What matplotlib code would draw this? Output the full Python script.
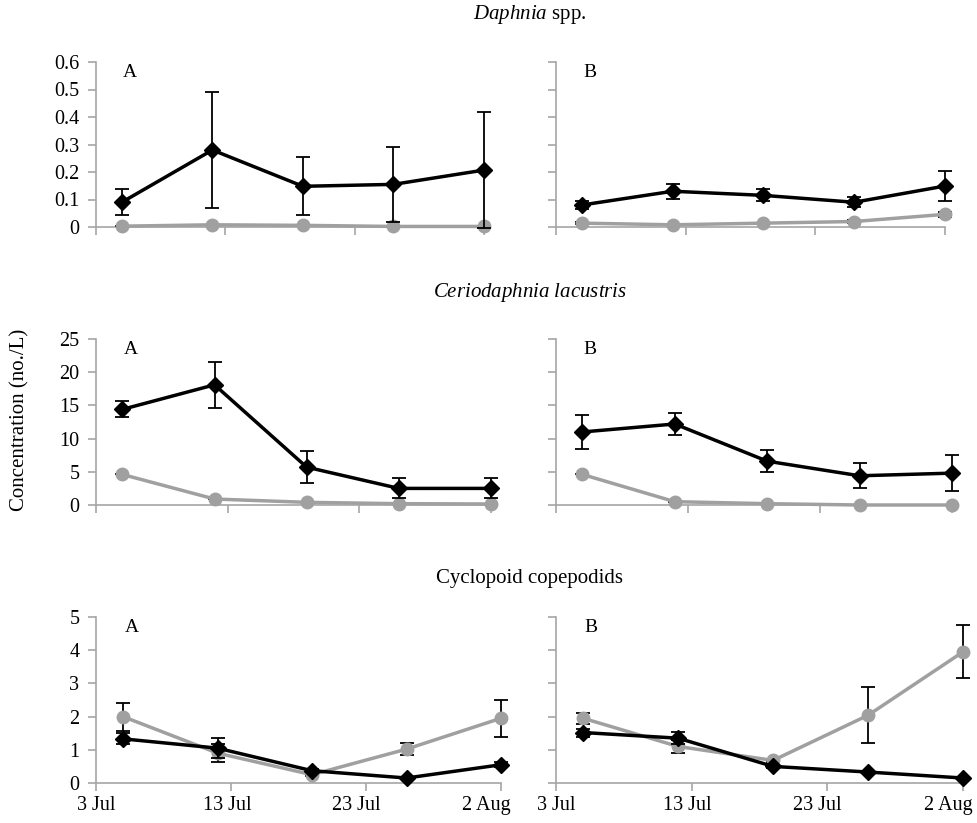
import matplotlib as mpl
import matplotlib.pyplot as plt

mpl.rcParams['font.family'] = ['Liberation Serif', 'DejaVu Serif']
mpl.rcParams['mathtext.fontset'] = 'custom'
mpl.rcParams['mathtext.it'] = 'Liberation Serif:italic'
mpl.rcParams['mathtext.rm'] = 'Liberation Serif'

#######
# Data (days after 3 Jul)

days = [2, 9, 16, 23, 30]
tick_days = [0, 10, 20, 30]
tick_labels = ["3 Jul", "13 Jul", "23 Jul", "2 Aug"]

# Daphnia spp.
daph_A_black = [0.09, 0.28, 0.148, 0.155, 0.207]
daph_A_black_err = [0.047, 0.21, 0.105, 0.135, 0.21]
daph_A_grey = [0.003, 0.008, 0.006, 0.002, 0.002]
daph_A_grey_err = [0.0, 0.0, 0.0, 0.0, 0.0]
daph_B_black = [0.08, 0.13, 0.115, 0.09, 0.149]
daph_B_black_err = [0.015, 0.027, 0.022, 0.018, 0.054]
daph_B_grey = [0.014, 0.008, 0.014, 0.02, 0.046]
daph_B_grey_err = [0.004, 0.0, 0.0, 0.005, 0.01]

# Ceriodaphnia lacustris
cerio_A_black = [14.4, 18.1, 5.7, 2.5, 2.5]
cerio_A_black_err = [1.2, 3.5, 2.4, 1.5, 1.5]
cerio_A_grey = [4.6, 0.9, 0.4, 0.2, 0.15]
cerio_A_grey_err = [0.0, 0.0, 0.0, 0.0, 0.0]
cerio_B_black = [11.0, 12.2, 6.6, 4.4, 4.8]
cerio_B_black_err = [2.5, 1.6, 1.65, 1.9, 2.7]
cerio_B_grey = [4.6, 0.5, 0.2, 0.0, 0.0]
cerio_B_grey_err = [0.0, 0.0, 0.0, 0.0, 0.0]

# Cyclopoid copepodids
cyc_A_black = [1.33, 1.05, 0.37, 0.15, 0.55]
cyc_A_black_err = [0.17, 0.3, 0.05, 0.03, 0.07]
cyc_A_grey = [2.0, 0.9, 0.25, 1.02, 1.95]
cyc_A_grey_err = [0.42, 0.28, 0.03, 0.17, 0.55]
cyc_B_black = [1.52, 1.35, 0.5, 0.33, 0.15]
cyc_B_black_err = [0.12, 0.18, 0.05, 0.03, 0.02]
cyc_B_grey = [1.95, 1.1, 0.68, 2.04, 3.95]
cyc_B_grey_err = [0.17, 0.2, 0.05, 0.85, 0.8]

rows = [
    (r"$\it{Daphnia}$ spp.", 0.6, [0, 0.1, 0.2, 0.3, 0.4, 0.5, 0.6],
     ["0", "0.1", "0.2", "0.3", "0.4", "0.5", "0.6"],
     [(daph_A_black, daph_A_black_err, daph_A_grey, daph_A_grey_err),
      (daph_B_black, daph_B_black_err, daph_B_grey, daph_B_grey_err)]),
    (r"$\it{Ceriodaphnia\ lacustris}$", 25, [0, 5, 10, 15, 20, 25],
     ["0", "5", "10", "15", "20", "25"],
     [(cerio_A_black, cerio_A_black_err, cerio_A_grey, cerio_A_grey_err),
      (cerio_B_black, cerio_B_black_err, cerio_B_grey, cerio_B_grey_err)]),
    ("Cyclopoid copepodids", 5, [0, 1, 2, 3, 4, 5],
     ["0", "1", "2", "3", "4", "5"],
     [(cyc_A_black, cyc_A_black_err, cyc_A_grey, cyc_A_grey_err),
      (cyc_B_black, cyc_B_black_err, cyc_B_grey, cyc_B_grey_err)]),
]

#######
# Plot

W, H = 978, 823
fig = plt.figure(figsize=(9.78, 8.23), dpi=100)

# panel pixel boxes per row: (left col x0, x1), (right col x0, x1)
col_x = [[(96, 484), (556, 945)],
         [(96, 491), (556, 952)],
         [(96, 501), (556, 963)]]
row_y = [(62, 227), (339, 505), (617, 783)]
title_y = [15, 293, 578]
label_shift = [0, -4, -10, -15]
axcol = '#a6a6a6'
grey = '#a0a0a0'

for r, (title, ymax, yt, ytl, panels) in enumerate(rows):
    fig.text(530 / W, 1 - title_y[r] / H, title, ha='center', va='center', fontsize=15)
    for c, (blk, blk_err, gry, gry_err) in enumerate(panels):
        x0, x1 = col_x[r][c]
        y0, y1 = row_y[r]
        ax = fig.add_axes([x0 / W, 1 - y1 / H, (x1 - x0) / W, (y1 - y0) / H])
        ax.errorbar(days, gry, yerr=gry_err, color=grey, lw=2.5, marker='o', ms=9,
                    mec=grey, mfc=grey, ecolor='black', elinewidth=1.3, capsize=5,
                    capthick=1.3, clip_on=False, zorder=3)
        ax.errorbar(days, blk, yerr=blk_err, color='black', lw=2.5, marker='D', ms=8,
                    ecolor='black', elinewidth=1.3, capsize=5, capthick=1.3,
                    clip_on=False, zorder=4)
        ax.set_xlim(0, 30)
        ax.set_ylim(0, ymax)
        ax.set_yticks(yt)
        if c == 0:
            ax.set_yticklabels(ytl, fontsize=14.5)
        else:
            ax.set_yticklabels([])
        ax.set_xticks(tick_days)
        ax.set_xticklabels([])
        if r == 2:
            # date labels sit a little left of their ticks, as in the original
            for d, lab, dx in zip(tick_days, tick_labels, label_shift):
                ax.annotate(lab, xy=(d, 0), xycoords=('data', 'axes fraction'),
                            xytext=(dx, -13), textcoords='offset pixels',
                            ha='center', va='top', fontsize=14.5, annotation_clip=False)
        for s in ['top', 'right']:
            ax.spines[s].set_visible(False)
        for s in ['left', 'bottom']:
            ax.spines[s].set_color(axcol)
            ax.spines[s].set_linewidth(1.2)
        ax.tick_params(axis='both', direction='out', length=6, width=1.2, color=axcol, pad=6)
        ax.text(0.07, 0.99, "AB"[c], transform=ax.transAxes, fontsize=14, va='top', ha='left')
        ax.patch.set_alpha(0)

fig.text(20 / W, 1 - 420 / H, "Concentration (no./L)", rotation=90, ha='center',
         va='center', fontsize=15)

plt.savefig("out.png", dpi=100)
